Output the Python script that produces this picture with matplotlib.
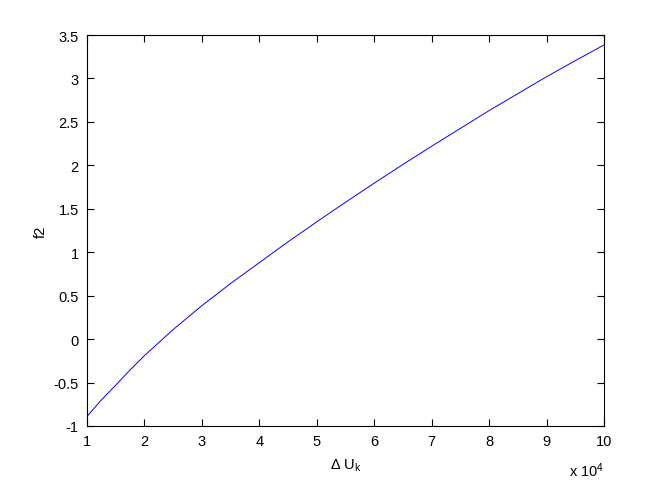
import matplotlib
matplotlib.use("Agg")
import matplotlib.pyplot as plt
from matplotlib.ticker import FuncFormatter

plt.rcParams['font.family'] = ['Liberation Sans', 'DejaVu Sans']
plt.rcParams['mathtext.default'] = 'regular'

# data (x in original units)
delta_u = [10000, 12500, 15000, 17500, 20000, 25000, 30000, 35000, 40000, 45000, 50000,
           55000, 60000, 65000, 70000, 75000, 80000, 85000, 90000, 95000, 100000]
f2 = [-0.89, -0.70, -0.53, -0.355, -0.19, 0.11, 0.385, 0.64, 0.88, 1.12, 1.35,
      1.575, 1.795, 2.01, 2.22, 2.425, 2.63, 2.825, 3.02, 3.205, 3.385]

x_ticks = [10000 * i for i in range(1, 11)]
y_ticks = [-1, -0.5, 0, 0.5, 1, 1.5, 2, 2.5, 3, 3.5]

fig = plt.figure(figsize=(6.67, 4.81), dpi=100)
ax = fig.add_axes([87/667, 1 - 427/481, (604-87)/667, (427-36)/481])
ax.plot(delta_u, f2, color=(0, 0, 1), linewidth=0.7)

ax.set_xlim(10000, 100000)
ax.set_ylim(-1, 3.5)
ax.set_xticks(x_ticks)
ax.set_yticks(y_ticks)
ax.xaxis.set_major_formatter(FuncFormatter(lambda v, p: f"{v/1e4:g}"))
ax.yaxis.set_major_formatter(FuncFormatter(lambda v, p: f"{v:g}"))
ax.tick_params(direction='in', top=True, right=True, labelsize=10.5,
               length=5, width=0.8, pad=6)
for s in ax.spines.values():
    s.set_linewidth(0.8)

ax.set_xlabel('Δ U$_k$', fontsize=10.5, labelpad=6)
ax.set_ylabel('f2', fontsize=10.5, labelpad=4)
ax.text(1.0, -0.088, 'x 10$^4$', transform=ax.transAxes, ha='right', va='top',
        fontsize=10.5)

fig.savefig('out.png', dpi=100, facecolor='white')
